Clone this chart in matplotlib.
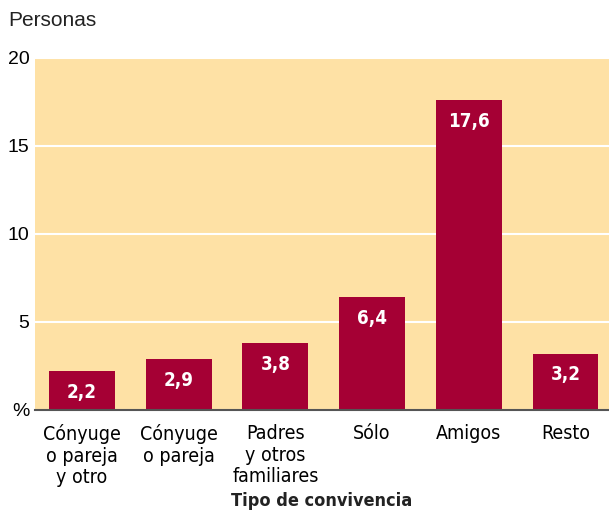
import matplotlib.pyplot as plt
from matplotlib import font_manager

categories = ["Cónyuge\no pareja\ny otro", "Cónyuge\no pareja", "Padres\ny otros\nfamiliares",
              "Sólo", "Amigos", "Resto"]
values = [2.2, 2.9, 3.8, 6.4, 17.6, 3.2]
value_labels = ["2,2", "2,9", "3,8", "6,4", "17,6", "3,2"]
yticks = [0, 5, 10, 15, 20]
ytick_labels = ["%", "5", "10", "15", "20"]

# look for a condensed face, the original uses a narrow grotesque
cond = None
cond_bold = None
for f in font_manager.fontManager.ttflist:
    fn = f.fname.lower()
    if "condensed" in fn or "narrow" in fn:
        if "oblique" in fn or "italic" in fn:
            continue
        if "bold" in fn:
            cond_bold = cond_bold or f.fname
        else:
            cond = cond or f.fname

def fp(size, bold=False):
    path = cond_bold if bold else cond
    if path:
        return font_manager.FontProperties(fname=path, size=size)
    return font_manager.FontProperties(family="DejaVu Sans", size=size,
                                       weight="bold" if bold else "normal")

bar_color = "#A50034"
bg_color = "#FEE1A5"

fig = plt.figure(figsize=(6.09, 5.12), dpi=100)
ax = fig.add_axes([35 / 609, 102 / 512, 574 / 609, 352 / 512])
ax.set_facecolor(bg_color)

x = range(len(values))
ax.bar(x, values, width=0.68, color=bar_color, zorder=3)
for xi, v, lab in zip(x, values, value_labels):
    ax.text(xi, v - 1.2, lab, ha="center", va="center", color="white",
            fontproperties=fp(13.5, True), zorder=4)

ax.set_xlim(-0.485, 5.45)
ax.set_ylim(0, 20)
ax.set_yticks(yticks)
ax.set_yticklabels(ytick_labels, fontsize=14, family=["Liberation Sans", "DejaVu Sans"])
ax.set_xticks(list(x))
ax.set_xticklabels(categories, fontproperties=fp(14), linespacing=1.18, va="top")
ax.tick_params(length=0, pad=4)
ax.tick_params(axis="x", pad=10)
ax.yaxis.grid(True, color="white", linewidth=1.5, zorder=1)
ax.set_axisbelow(True)
for s in ["top", "right", "left"]:
    ax.spines[s].set_visible(False)
ax.spines["bottom"].set_color("#555555")
ax.spines["bottom"].set_linewidth(1.5)
ax.spines["bottom"].set_zorder(5)

fig.text(8 / 609, 1 - 21 / 512, "Personas", fontsize=15, va="center", ha="left",
         family=["Liberation Sans", "DejaVu Sans"], color="#222222")
fig.text(322 / 609, 1 - 501 / 512, "Tipo de convivencia", fontproperties=fp(13, True),
         va="center", ha="center", color="#222222")

fig.savefig("out.png", dpi=100)
